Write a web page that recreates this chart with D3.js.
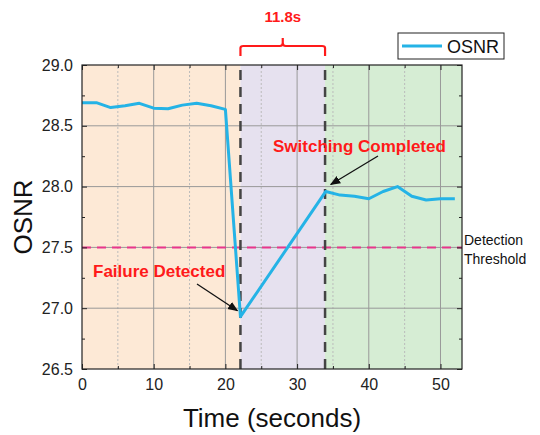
<!DOCTYPE html>
<html>
<head>
<meta charset="utf-8">
<script src="https://cdn.jsdelivr.net/npm/d3@7"></script>
<style>
  html, body { margin: 0; padding: 0; background: #fff; }
  svg { display: block; font-family: "Liberation Sans", Arial, sans-serif; }
</style>
</head>
<body>
<svg id="chart" width="540" height="435"></svg>
<script>
// OSNR trace over time (seconds, dB)
const timeS = [0, 2, 4, 6, 8, 10, 12, 14, 16, 18, 20, 22.1, 34, 36, 38, 40, 42, 44, 46, 48, 50, 52];
const osnr  = [28.69, 28.69, 28.65, 28.665, 28.685, 28.645, 28.64, 28.67, 28.685, 28.665, 28.635,
               26.93, 27.96, 27.93, 27.92, 27.90, 27.96, 28.00, 27.92, 27.89, 27.90, 27.90];

// Event markers and phases
const failureT = 22.1;
const completedT = 33.9;
const switchLabel = "11.8s";
const thresholdVal = 27.5;
const phases = [
  { from: 0, to: failureT, color: "#fde9d6" },
  { from: failureT, to: completedT, color: "#e6e1ef" },
  { from: completedT, to: 53, color: "#d6edd4" }
];

const xTicks = [0, 10, 20, 30, 40, 50];
const xMinor = [5, 15, 25, 35, 45];
const yTicks = [26.5, 27.0, 27.5, 28.0, 28.5, 29.0];
const yMinor = [26.75, 27.25, 27.75, 28.25, 28.75];

const svg = d3.select("#chart");
const m = { left: 82, right: 78, top: 65, bottom: 66 };
const W = 540, H = 435;
const x = d3.scaleLinear().domain([0, 53]).range([m.left, W - m.right]);
const y = d3.scaleLinear().domain([26.5, 29.0]).range([H - m.bottom, m.top]);
const x0 = x.range()[0], x1 = x.range()[1], y0 = y.range()[0], y1 = y.range()[1];

// Phase background bands
svg.selectAll("rect.phase").data(phases).join("rect")
  .attr("x", d => x(d.from)).attr("width", d => x(d.to) - x(d.from))
  .attr("y", y1).attr("height", y0 - y1)
  .attr("fill", d => d.color);

// Grid: solid major lines, dotted minor verticals
const grid = svg.append("g");
grid.selectAll("line.gx").data(xTicks.filter(t => t > 0)).join("line")
  .attr("x1", d => x(d)).attr("x2", d => x(d)).attr("y1", y0).attr("y2", y1)
  .attr("stroke", "#999").attr("stroke-width", 1);
grid.selectAll("line.gxm").data(xMinor).join("line")
  .attr("x1", d => x(d)).attr("x2", d => x(d)).attr("y1", y0).attr("y2", y1)
  .attr("stroke", "#bbb").attr("stroke-width", 1).attr("stroke-dasharray", "2,2");
grid.selectAll("line.gy").data(yTicks.filter(t => t > 26.5 && t < 29)).join("line")
  .attr("x1", x0).attr("x2", x1).attr("y1", d => y(d)).attr("y2", d => y(d))
  .attr("stroke", "#999").attr("stroke-width", 1);

// Detection threshold
svg.append("line")
  .attr("x1", x0).attr("x2", x1).attr("y1", y(thresholdVal)).attr("y2", y(thresholdVal))
  .attr("stroke", "#e8368c").attr("stroke-width", 2).attr("stroke-dasharray", "9,6");

// Event markers
svg.selectAll("line.evt").data([failureT, completedT]).join("line")
  .attr("x1", d => x(d)).attr("x2", d => x(d)).attr("y1", y0).attr("y2", y1)
  .attr("stroke", "#444").attr("stroke-width", 2.5).attr("stroke-dasharray", "10,7");

// OSNR line
svg.append("path")
  .datum(timeS.map((t, i) => [t, osnr[i]]))
  .attr("fill", "none").attr("stroke", "#25b3e6").attr("stroke-width", 3)
  .attr("stroke-linejoin", "round")
  .attr("d", d3.line().x(d => x(d[0])).y(d => y(d[1])));

// Axes with inward ticks on all four sides
const tickFont = g => g.selectAll("text").attr("font-size", 16).attr("fill", "#222")
  .attr("font-family", "'Liberation Sans', Arial, sans-serif");
const clean = g => g.select(".domain").remove();

svg.append("g").attr("transform", `translate(0,${y0})`)
  .call(d3.axisBottom(x).tickValues(xTicks).tickSize(-5).tickPadding(10).tickFormat(d3.format("d")))
  .call(clean).call(tickFont);
svg.append("g").attr("transform", `translate(0,${y0})`)
  .call(d3.axisBottom(x).tickValues(xMinor).tickSize(-3).tickFormat(""))
  .call(clean);
svg.append("g").attr("transform", `translate(${x0},0)`)
  .call(d3.axisLeft(y).tickValues(yTicks).tickSize(-5).tickPadding(9).tickFormat(d3.format(".1f")))
  .call(clean).call(tickFont);
svg.append("g").attr("transform", `translate(${x0},0)`)
  .call(d3.axisLeft(y).tickValues(yMinor).tickSize(-3).tickFormat(""))
  .call(clean);
svg.append("g").attr("transform", `translate(0,${y1})`)
  .call(d3.axisTop(x).tickValues(xTicks).tickSize(-5).tickFormat(""))
  .call(clean);
svg.append("g").attr("transform", `translate(0,${y1})`)
  .call(d3.axisTop(x).tickValues(xMinor).tickSize(-3).tickFormat(""))
  .call(clean);
svg.append("g").attr("transform", `translate(${x1},0)`)
  .call(d3.axisRight(y).tickValues(yTicks).tickSize(-5).tickFormat(""))
  .call(clean);
svg.append("g").attr("transform", `translate(${x1},0)`)
  .call(d3.axisRight(y).tickValues(yMinor).tickSize(-3).tickFormat(""))
  .call(clean);
svg.selectAll(".tick line").attr("stroke", "#222");

// Frame
svg.append("rect").attr("x", x0).attr("y", y1).attr("width", x1 - x0).attr("height", y0 - y1)
  .attr("fill", "none").attr("stroke", "#222").attr("stroke-width", 1.2);

// Axis titles
svg.append("text").attr("x", (x0 + x1) / 2).attr("y", 427).attr("text-anchor", "middle")
  .attr("font-size", 26).attr("fill", "#111").text("Time (seconds)");
svg.append("text").attr("transform", `translate(32,${(y0 + y1) / 2}) rotate(-90)`)
  .attr("text-anchor", "middle").attr("font-size", 26).attr("fill", "#111").text("OSNR");

// Threshold label
svg.append("text").attr("x", x1 + 2).attr("y", 245).attr("font-size", 14).attr("fill", "#111")
  .selectAll("tspan").data(["Detection", "Threshold"]).join("tspan")
  .attr("x", x1 + 2).attr("dy", (d, i) => i ? 19 : 0).text(d => d);

// Annotations
const defs = svg.append("defs");
defs.append("marker").attr("id", "arrow").attr("viewBox", "0 0 10 10")
  .attr("refX", 9).attr("refY", 5).attr("markerWidth", 8).attr("markerHeight", 8)
  .attr("orient", "auto")
  .append("path").attr("d", "M0,1 L10,5 L0,9 Z").attr("fill", "#111");

const iFail = timeS.indexOf(failureT);
const iDone = timeS.indexOf(34);

svg.append("text").attr("x", 93).attr("y", 277).attr("font-size", 17).attr("font-weight", "bold")
  .attr("fill", "#ff1a1a").text("Failure Detected");
svg.append("line").attr("x1", 197).attr("y1", 284)
  .attr("x2", x(timeS[iFail]) - 3).attr("y2", y(osnr[iFail]) - 6)
  .attr("stroke", "#111").attr("stroke-width", 1.3).attr("marker-end", "url(#arrow)");

svg.append("text").attr("x", 273).attr("y", 152).attr("font-size", 17).attr("font-weight", "bold")
  .attr("fill", "#ff1a1a").text("Switching Completed");
svg.append("line").attr("x1", 378).attr("y1", 156)
  .attr("x2", x(timeS[iDone]) + 5).attr("y2", y(osnr[iDone]) - 7)
  .attr("stroke", "#111").attr("stroke-width", 1.3).attr("marker-end", "url(#arrow)");

// Brace spanning the switching interval
const bl = x(failureT), br = x(completedT), bm = (bl + br) / 2;
svg.append("path")
  .attr("d", `M${bl},56 L${bl},48 Q${bl},46 ${bl + 3},46 L${bm - 3},46 Q${bm},46 ${bm},43 L${bm},38
              M${bm},43 Q${bm},46 ${bm + 3},46 L${br - 3},46 Q${br},46 ${br},48 L${br},56`)
  .attr("fill", "none").attr("stroke", "#ff1a1a").attr("stroke-width", 2.2);
svg.append("text").attr("x", bm).attr("y", 22).attr("text-anchor", "middle")
  .attr("font-size", 15).attr("font-weight", "bold").attr("fill", "#ff1a1a").text(switchLabel);

// Legend
const lg = svg.append("g").attr("transform", "translate(398,33)");
lg.append("rect").attr("width", 106).attr("height", 26).attr("fill", "#fff")
  .attr("stroke", "#222").attr("stroke-width", 1);
lg.append("line").attr("x1", 4).attr("x2", 44).attr("y1", 13).attr("y2", 13)
  .attr("stroke", "#25b3e6").attr("stroke-width", 3);
lg.append("text").attr("x", 49).attr("y", 19.5).attr("font-size", 18).attr("fill", "#111").text("OSNR");
</script>
</body>
</html>
